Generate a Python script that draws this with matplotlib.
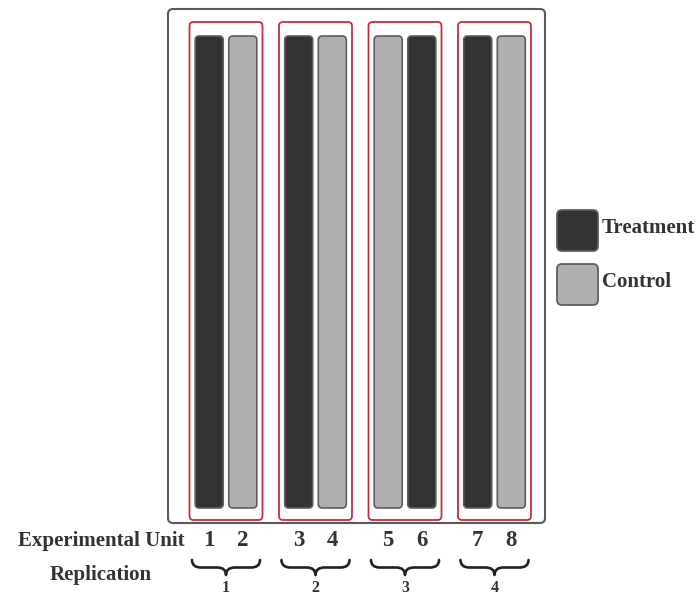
import numpy as np
import matplotlib.pyplot as plt
from matplotlib.patches import FancyBboxPatch, PathPatch
from matplotlib.path import Path

# design layout: 8 experimental units in 4 replications
units = [1, 2, 3, 4, 5, 6, 7, 8]
assignment = ["Treatment", "Control", "Treatment", "Control",
              "Control", "Treatment", "Treatment", "Control"]
replication = [1, 1, 2, 2, 3, 3, 4, 4]
legend_labels = ["Treatment", "Control"]

colors = {"Treatment": "#333333", "Control": "#b0b0b0"}
edge = "#5e5e5e"
red = "#cf2a3c"
txt = "#333333"
font = "Liberation Serif"

fig = plt.figure(figsize=(6.98, 5.95), dpi=100)
ax = fig.add_axes([0, 0, 1, 1])
ax.set_xlim(0, 698)
ax.set_ylim(595, 0)
ax.axis("off")

def rbox(x, y, w, h, r, fc, ec, lw):
    p = FancyBboxPatch((x, y), w, h, boxstyle=f"round,pad=0,rounding_size={r}",
                       fc=fc, ec=ec, lw=lw)
    ax.add_patch(p)

def brace(x0, x1, y0, h):
    xm = (x0 + x1) / 2
    ym = y0 + h / 2
    verts = [(x0, y0), (x0, ym), (x0 + 9, ym), (xm - 9, ym), (xm, ym), (xm, y0 + h),
             (xm, ym), (xm + 9, ym), (x1 - 9, ym), (x1, ym), (x1, y0)]
    codes = [Path.MOVETO, Path.CURVE3, Path.CURVE3, Path.LINETO, Path.CURVE3, Path.CURVE3,
             Path.CURVE3, Path.CURVE3, Path.LINETO, Path.CURVE3, Path.CURVE3]
    ax.add_patch(PathPatch(Path(verts, codes), fc="none", ec="#222222", lw=1.9,
                           capstyle="round", joinstyle="round"))

# outer field
rbox(168, 9, 377, 514, 5, "white", "#5a5a5a", 1.5)

group_pitch = 89.5
group_x0 = 226
bar_w = 28
half_gap = 16.8

groups = sorted(set(replication))
for g in groups:
    gc = group_x0 + (g - 1) * group_pitch
    rbox(gc - 36.5, 22, 73, 498, 4, "none", red, 1.3)
    brace(gc - 34, gc + 34, 560, 15)
    ax.text(gc, 580, str(g), ha="center", va="top", fontsize=11.5,
            fontweight="bold", family=font, color=txt)

for i, (u, a, g) in enumerate(zip(units, assignment, replication)):
    gc = group_x0 + (g - 1) * group_pitch
    side = -1 if i % 2 == 0 else 1
    xc = gc + side * half_gap
    rbox(xc - bar_w / 2, 36, bar_w, 472, 4, colors[a], edge, 1.2)
    ax.text(xc, 541, str(u), ha="center", va="center", fontsize=16.5,
            fontweight="bold", family=font, color=txt)

ax.text(101, 541, "Experimental Unit", ha="center", va="center", fontsize=15,
        fontweight="bold", family=font, color=txt)
ax.text(101, 575, "Replication", ha="center", va="center", fontsize=15,
        fontweight="bold", family=font, color=txt)

# legend
for j, lab in enumerate(legend_labels):
    y = 210 + j * 54
    rbox(557, y, 41, 41, 5, colors[lab], edge, 1.3)
    ax.text(602, y + 18, lab, ha="left", va="center", fontsize=15,
            fontweight="bold", family=font, color=txt)

fig.savefig("out.png", dpi=100)
